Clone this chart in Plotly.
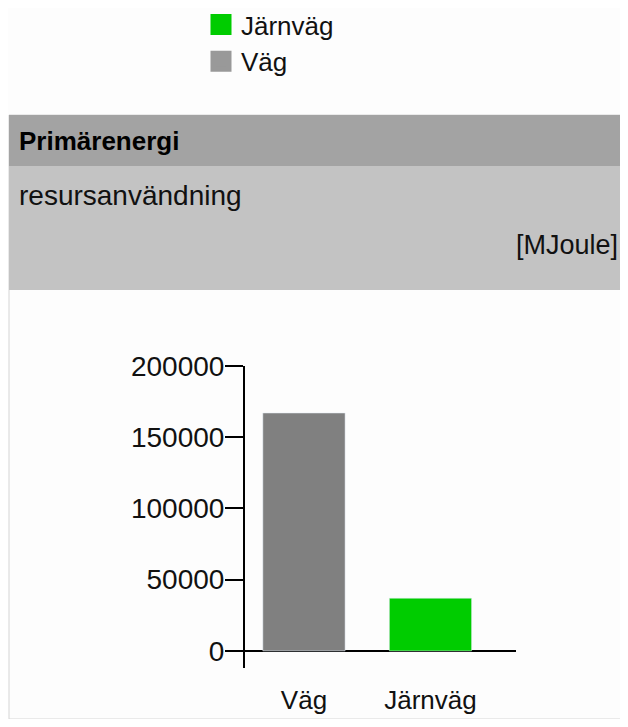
import plotly.graph_objects as go

# data
categories = ["Väg", "Järnväg"]
values = [167000, 37000]
bar_colors = ["#808080", "#00cc00"]

legend_names = ["Järnväg", "Väg"]
legend_colors = ["#00cc00", "#999999"]

y_ticks = [0, 50000, 100000, 150000, 200000]
y_ticktext = ["0", "50000", "100000", "150000", "200000"]

title = "Primärenergi"
subtitle = "resursanvändning"
unit = "[MJoule]"

# page body adds an 8px margin, so the figure is 8px smaller on each side
O = 8
W, H = 628 - 2 * O, 727 - 2 * O
# plot area in window pixels: x 245..516, y 366..668
L, R, T, B = 245 - O, W - (516 - O), 366 - O, H - (668 - O)
PW, PH = W - L - R, H - T - B


def px_x(p):
    return (p - O - L) / PW


def px_y(p):
    return (H - B - (p - O)) / PH


FONT = "Liberation Sans, Arial, sans-serif"

fig = go.Figure()

fig.add_trace(go.Bar(
    x=categories, y=values, marker_color=bar_colors,
    width=0.65, showlegend=False, hoverinfo="x+y",
))

for name, col in zip(legend_names, legend_colors):
    fig.add_trace(go.Scatter(
        x=[None], y=[None], mode="markers", name=name,
        marker=dict(symbol="square", size=16, color=col, line=dict(color=col, width=5)),
    ))

shapes = [
    # panel outline
    dict(type="rect", xref="paper", yref="paper", layer="below",
         x0=px_x(9), x1=px_x(660), y0=px_y(719), y1=px_y(115),
         line=dict(color="#d6d6d6", width=1), fillcolor="rgba(0,0,0,0)"),
    # title band
    dict(type="rect", xref="paper", yref="paper", layer="below",
         x0=px_x(9), x1=px_x(660), y0=px_y(166), y1=px_y(115),
         line=dict(width=0), fillcolor="#a3a3a3"),
    # subtitle band
    dict(type="rect", xref="paper", yref="paper", layer="below",
         x0=px_x(9), x1=px_x(660), y0=px_y(290), y1=px_y(166),
         line=dict(width=0), fillcolor="#c3c3c3"),
]

annotations = [
    dict(text="<b>" + title + "</b>", x=px_x(17), y=px_y(141), xref="paper", yref="paper",
         xanchor="left", yanchor="middle", showarrow=False,
         font=dict(family=FONT, size=26, color="#000")),
    dict(text=subtitle, x=px_x(17), y=px_y(195), xref="paper", yref="paper",
         xanchor="left", yanchor="middle", showarrow=False,
         font=dict(family=FONT, size=28, color="#111")),
    dict(text=unit, x=px_x(620), y=px_y(245), xref="paper", yref="paper",
         xanchor="right", yanchor="middle", showarrow=False,
         font=dict(family=FONT, size=27, color="#111")),
]

fig.update_layout(
    width=W, height=H, autosize=False,
    margin=dict(l=L, r=R, t=T, b=B, pad=0, autoexpand=False),
    paper_bgcolor="#fdfdfd", plot_bgcolor="#fdfdfd",
    font=dict(family=FONT, size=27, color="#111"),
    shapes=shapes, annotations=annotations,
    showlegend=True,
    legend=dict(x=px_x(201), y=px_y(1), xanchor="left", yanchor="top",
                xref="paper", yref="paper", itemsizing="trace",
                bgcolor="rgba(0,0,0,0)", font=dict(family=FONT, size=26, color="#111")),
    bargap=0.35,
)

fig.update_xaxes(
    type="category", range=[-0.466, 1.676],
    showline=False, showgrid=False, zeroline=False,
    ticks="outside", ticklen=9, tickcolor="rgba(0,0,0,0)",
    tickfont=dict(family=FONT, size=26, color="#111"),
)

fig.update_yaxes(
    range=[-12000, 200000],
    tickvals=y_ticks, ticktext=y_ticktext,
    showline=True, linecolor="#000", linewidth=2,
    ticks="outside", ticklen=18, tickwidth=2, tickcolor="#000",
    ticklabelstandoff=-5,
    showgrid=False, zeroline=True, zerolinecolor="#000", zerolinewidth=2,
    tickfont=dict(family=FONT, size=28, color="#111"),
)

fig.write_html("out.html")
